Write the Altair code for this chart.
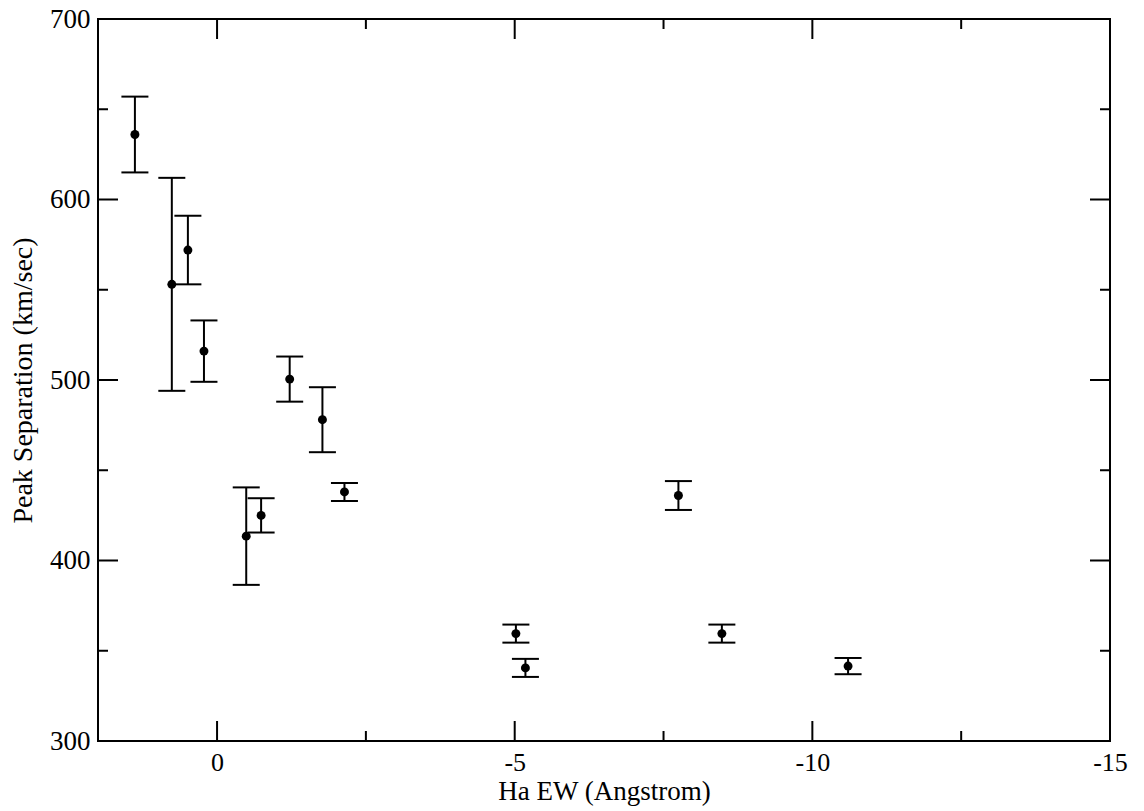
import altair as alt
import pandas as pd

# Data
ha_ew = [1.38, 0.76, 0.49, 0.22, -1.22, -1.77, -2.14, -0.49, -0.74, -7.75, -5.02, -5.18, -8.48, -10.6]
peak_sep = [636, 553, 572, 516, 500.5, 478, 438, 413.5, 425, 436, 359.5, 340.5, 359.5, 341.5]
sep_err = [21, 59, 19, 17, 12.5, 18, 5, 27, 9.5, 8, 5, 5, 5, 4.5]

x_major = [0, -5, -10, -15]
x_minor = [-2.5, -7.5, -12.5]
y_major = [300, 400, 500, 600, 700]
y_minor = [350, 450, 550, 650]

df = pd.DataFrame({
    "ew": ha_ew,
    "sep": peak_sep,
    "lo": [s - e for s, e in zip(peak_sep, sep_err)],
    "hi": [s + e for s, e in zip(peak_sep, sep_err)],
})

W, H = 1012, 722
FONT = "Liberation Serif"

x_scale = alt.Scale(domain=[-15, 2], reverse=True, nice=False, zero=False)
y_scale = alt.Scale(domain=[300, 700], nice=False, zero=False)

x_axis = alt.Axis(values=x_major, title="Ha EW (Angstrom)", ticks=False,
                  grid=False, domain=False, labelFont=FONT, labelFontSize=26,
                  labelColor="black", labelPadding=8, labelFlush=False,
                  labelExpr="'' + datum.value",
                  titleFont=FONT, titleFontSize=27,
                  titleFontWeight="normal", titleColor="black", titleY=58,
                  titleBaseline="alphabetic")
y_axis = alt.Axis(values=y_major, title="Peak Separation (km/sec)", ticks=False,
                  grid=False, domain=False, labelFont=FONT, labelFontSize=27,
                  labelColor="black", labelPadding=8, labelFlush=False,
                  titleFont=FONT, titleFontSize=28,
                  titleFontWeight="normal", titleColor="black", titlePadding=12)

base = alt.Chart(df)

points = base.mark_point(shape="circle", filled=True, size=80, color="black", opacity=1).encode(
    x=alt.X("ew:Q", scale=x_scale, axis=x_axis),
    y=alt.Y("sep:Q", scale=y_scale, axis=y_axis),
)

bars = base.mark_rule(color="black", strokeWidth=2).encode(
    x=alt.X("ew:Q", scale=x_scale, axis=x_axis),
    y=alt.Y("lo:Q", scale=y_scale, axis=y_axis),
    y2="hi:Q",
)

cap_lo = base.mark_tick(orient="horizontal", size=27, thickness=2, color="black", opacity=1).encode(
    x=alt.X("ew:Q", scale=x_scale, axis=x_axis),
    y=alt.Y("lo:Q", scale=y_scale, axis=y_axis),
)
cap_hi = base.mark_tick(orient="horizontal", size=27, thickness=2, color="black", opacity=1).encode(
    x=alt.X("ew:Q", scale=x_scale, axis=x_axis),
    y=alt.Y("hi:Q", scale=y_scale, axis=y_axis),
)


def xticks(vals, length):
    d = alt.Chart(pd.DataFrame({"v": vals}))
    bottom = d.mark_rule(color="black", strokeWidth=2).encode(
        x=alt.X("v:Q", scale=x_scale, axis=x_axis), y=alt.value(H), y2=alt.value(H - length))
    top = d.mark_rule(color="black", strokeWidth=2).encode(
        x=alt.X("v:Q", scale=x_scale, axis=x_axis), y=alt.value(0), y2=alt.value(length))
    return [bottom, top]


def yticks(vals, length):
    d = alt.Chart(pd.DataFrame({"v": vals}))
    left = d.mark_rule(color="black", strokeWidth=2).encode(
        y=alt.Y("v:Q", scale=y_scale, axis=y_axis), x=alt.value(0), x2=alt.value(length))
    right = d.mark_rule(color="black", strokeWidth=2).encode(
        y=alt.Y("v:Q", scale=y_scale, axis=y_axis), x=alt.value(W), x2=alt.value(W - length))
    return [left, right]


layers = [points, bars, cap_lo, cap_hi] + xticks(x_major, 20) + xticks(x_minor, 10) \
    + yticks(y_major, 20) + yticks(y_minor, 10)

chart = alt.layer(*layers).properties(
    width=W, height=H, autosize="none",
    padding={"left": 98, "top": 19, "right": 34, "bottom": 70},
    background="white",
).configure_view(stroke="black", strokeWidth=2)

chart.save("out.html", embed_options={"renderer": "svg", "actions": False})
